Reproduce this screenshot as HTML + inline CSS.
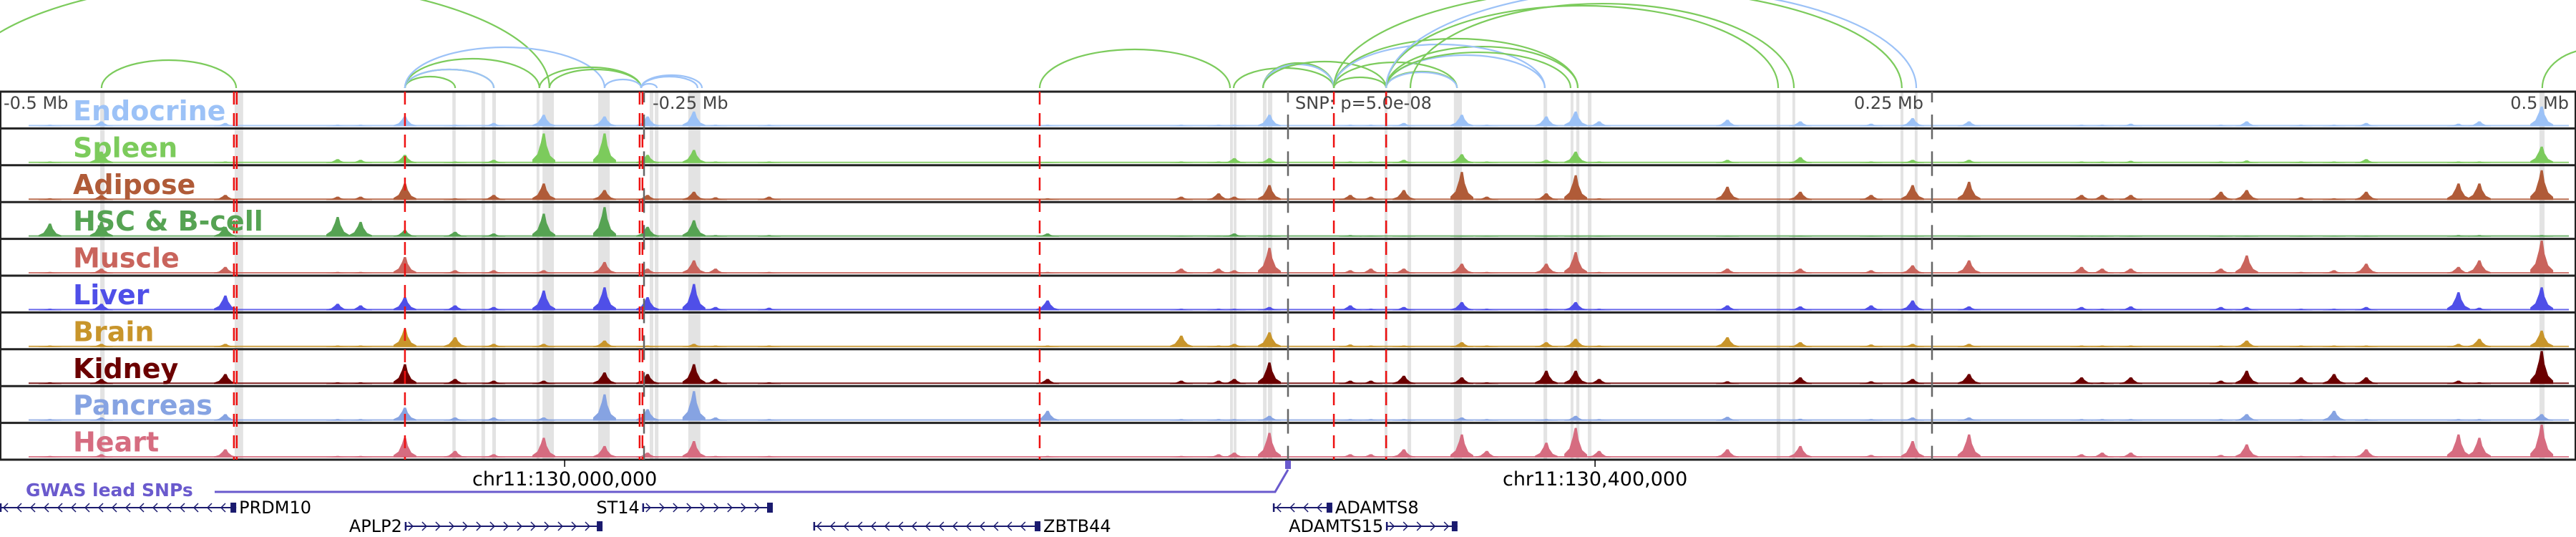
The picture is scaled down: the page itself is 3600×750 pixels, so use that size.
<!DOCTYPE html>
<html><head><meta charset="utf-8">
<style>
html,body{margin:0;padding:0;background:#fff;}
svg{display:block;}
text{font-family:"DejaVu Sans","Liberation Sans",sans-serif;}
</style></head>
<body>
<svg id="chart" width="3600" height="750" viewBox="0 0 3600 750" xmlns="http://www.w3.org/2000/svg">
  <g id="bands"></g>
  <g id="arcs"></g>
  <g id="tracks"></g>
  <g id="vlines"></g>
  <g id="labels"></g>
  <g id="axis">
    <text x="5" y="152" font-size="24" fill="#444">-0.5 Mb</text>
    <text x="912" y="152" font-size="24" fill="#444">-0.25 Mb</text>
    <text x="1810" y="152" font-size="24" fill="#444">SNP: p=5.0e-08</text>
    <text x="2688" y="152" font-size="24" fill="#444" text-anchor="end">0.25 Mb</text>
    <text x="3590" y="152" font-size="24" fill="#444" text-anchor="end">0.5 Mb</text>
  </g>
  <g id="coords"></g>
  <g id="gwas"></g>
  <g id="genes"></g>
</svg>
<script>
const trackNames = ["Endocrine","Spleen","Adipose","HSC & B-cell","Muscle","Liver","Brain","Kidney","Pancreas","Heart"];
const trackColors = ["#9cc2f7","#7ccb5c","#b05b38","#56a353","#c9645c","#4f4fe8","#c8952b","#6b0000","#86a3e2","#d66c80"];
const peakKb = [-480.6,-460.6,-412.5,-368.9,-360,-342.8,-323.3,-308.3,-288.9,-265.3,-248.6,-230.6,-222.2,-201.4,-93.3,-41.4,-26.9,-20.8,-7.2,24.2,32.2,45,67.5,77.2,100.3,111.7,120.8,170.6,198.9,226.4,242.5,264.4,308.1,316.1,327.2,362.2,372.2,393.3,406.1,418.6,454.4,462.5,486.7];
const sigEndocrine = [.05,.15,.1,.05,.05,.3,.05,.1,.35,.3,.3,.45,.05,.05,.05,.05,.05,.05,.35,.05,.05,.1,.35,.05,.3,.45,.15,.2,.15,.08,.25,.15,.05,.05,.08,.05,.15,.05,.05,.1,.08,.15,.6];
const sigSpleen = [.05,.35,.05,.12,.1,.25,.05,.1,.9,.9,.25,.4,.05,.05,.03,.05,.05,.15,.15,.05,.05,.1,.27,.05,.1,.35,.05,.1,.18,.05,.1,.1,.05,.05,.07,.05,.08,.05,.05,.12,.05,.05,.5];
const sigAdipose = [.05,.15,.15,.1,.1,.5,.05,.15,.5,.3,.15,.25,.08,.1,.05,.1,.2,.1,.45,.15,.1,.3,.85,.1,.2,.75,.05,.4,.25,.15,.45,.55,.15,.15,.15,.25,.3,.08,.05,.25,.5,.5,.9];
const sigHSC = [.4,.45,.3,.6,.45,.2,.15,.1,.7,.9,.3,.5,.05,.05,.1,.02,.02,.1,.05,.05,.03,.02,.02,.02,.02,.03,.02,.02,.03,.02,.02,.02,.02,.02,.02,.02,.02,.02,.02,.02,.05,.05,.05];
const sigMuscle = [.05,.15,.2,.05,.05,.5,.1,.1,.1,.35,.15,.4,.15,.05,.05,.15,.15,.1,.78,.1,.15,.15,.3,.05,.3,.65,.05,.15,.15,.1,.25,.4,.2,.15,.15,.15,.55,.05,.1,.3,.2,.4,1.0];
const sigLiver = [.05,.2,.45,.2,.15,.4,.15,.1,.6,.7,.4,.8,.1,.08,.3,.05,.05,.05,.1,.15,.05,.1,.25,.05,.05,.25,.05,.15,.12,.15,.3,.12,.1,.05,.12,.1,.1,.05,.05,.1,.55,.08,.7];
const sigBrain = [.05,.1,.1,.05,.05,.55,.3,.1,.1,.2,.05,.1,.05,.05,.05,.35,.05,.1,.45,.08,.05,.05,.15,.05,.15,.25,.05,.3,.15,.08,.1,.1,.05,.05,.05,.05,.2,.05,.05,.05,.1,.25,.5];
const sigKidney = [.05,.15,.3,.05,.05,.6,.15,.1,.1,.35,.3,.6,.15,.05,.15,.1,.1,.15,.65,.1,.1,.25,.2,.05,.4,.4,.15,.08,.2,.08,.15,.3,.2,.05,.2,.1,.4,.2,.3,.2,.1,.05,1.0];
const sigPancreas = [.05,.1,.2,.05,.05,.4,.1,.1,.1,.8,.35,.9,.1,.05,.3,.05,.05,.05,.15,.05,.05,.05,.1,.05,.05,.15,.05,.12,.06,.05,.1,.1,.05,.05,.05,.05,.2,.05,.3,.05,.05,.05,.2];
const sigHeart = [.05,.1,.25,.05,.05,.6,.2,.1,.6,.35,.15,.5,.05,.05,.05,.05,.1,.15,.75,.1,.1,.25,.7,.2,.45,.9,.2,.25,.35,.08,.5,.7,.1,.15,.15,.08,.4,.05,.05,.25,.7,.6,1.0];
const trackSignals = [sigEndocrine,sigSpleen,sigAdipose,sigHSC,sigMuscle,sigLiver,sigBrain,sigKidney,sigPancreas,sigHeart];
const bandStart = [-461.1,-408.9,-324.4,-313.1,-308.9,-291.7,-289.4,-267.8,-247.8,-245.8,-232.8,-22.5,-21.1,-9.7,-7.8,37.5,46.4,64.4,99.2,109.7,111.9,116.4,189.7,195.8,237.8,243.3,485.8];
const bandEnd   = [-459.4,-405.6,-323.1,-311.7,-307.5,-290.6,-285.0,-263.3,-246.4,-244.4,-228.1,-21.4,-20.0,-8.3,-6.1,38.6,47.8,67.5,100.6,110.8,113.1,117.8,191.1,196.9,238.9,244.4,487.8];
const redKb = [-409.2,-408.1,-342.8,-251.7,-250.6,-96.4,17.8,38.1];
const grayKb = [-250,0,250];
const arcStart = [-516.7,-460.6,-342.8,-342.8,-342.8,-342.8,-342.8,-290.6,-286.7,-265.3,-251.1,-251.1,-251.1,-96.4,-21.1,-9.7,-9.7,-9.7,17.8,17.8,38.1,38.1,38.1,38.1,17.8,17.8,38.1,38.1,47.5,17.8,38.1,486.9];
const arcEnd   = [-286.7,-408.3,-323.3,-308.3,-308.3,-290.6,-265.3,-251.1,-251.1,-251.1,-229.2,-227.5,-245,-22.5,17.8,17.8,17.8,38.1,38.1,65.6,65.6,65.6,99.7,112.5,112.5,99.7,109.7,190.3,196.4,238.3,243.9,527.8];
const arcHeight= [150,39,16,26,26,41,57,29,26,12,16,18,6,54,28,35,33,37,15,36,23,22,46,58,69,61,50,115,118,140,140,55];
const arcColor = [0,0,0,0,1,0,1,0,0,1,1,1,1,0,0,0,1,0,0,0,0,1,1,0,0,1,0,0,0,0,1,0];
const geneNames = ["PRDM10","ST14","APLP2","ZBTB44","ADAMTS8","ADAMTS15"];
const geneStartKb = [-500,-250.6,-342.8,-184.2,-5.8,38.1];
const geneEndKb = [-408.3,-200,-266.1,-96.1,17.2,65.8];
const geneStrand = [-1,1,1,-1,-1,1];
const geneRow = [0,0,1,1,0,1];
const geneLabelSide = [1,-1,-1,1,1,-1];
const coordLabels = ["chr11:130,000,000","chr11:130,400,000"];
const coordKb = [-280.8,119.2];

const NS="http://www.w3.org/2000/svg";
const X0=1800, PXKB=3.6;
function xs(kb){return X0+kb*PXKB;}
const TOP=128, TH=51.4, NT=10, BOT=TOP+TH*NT;
function mk(tag,attrs,parent){const e=document.createElementNS(NS,tag);for(const k in attrs)e.setAttribute(k,attrs[k]);parent.appendChild(e);return e;}

const gB=document.getElementById('bands');
bandStart.forEach((s,i)=>{
  const r=mk('rect',{x:xs(s),y:TOP,width:Math.max(3,xs(bandEnd[i])-xs(s)),height:BOT-TOP,fill:'#e3e3e3'},gB);
  
  
});

const gA=document.getElementById('arcs');
const arcBase=123;
arcStart.forEach((s,i)=>{
  const x1=xs(s),x2=xs(arcEnd[i]),rx=(x2-x1)/2,h=arcHeight[i];
  const p=mk('path',{d:`M${x1},${arcBase} A${rx},${h} 0 0 1 ${x2},${arcBase}`,fill:'none',stroke:arcColor[i]?'#9cc2f7':'#7ccb5c','stroke-width':2.2},gA);
  
  
});

const gT=document.getElementById('tracks');
const PEAKMAX=46;
for(let t=0;t<NT;t++){
  const y0=TOP+t*TH, base=y0+TH-3;
  const g=mk('g',{},gT);
  
  
  const bl=mk('rect',{x:40,y:base-2,width:3550,height:2,fill:trackColors[t],opacity:0.85},g);
  
  
  trackSignals[t].forEach((v,i)=>{
    const x=xs(peakKb[i]), h=v*PEAKMAX;
    const pts=[[x-16,base],[x-16,base-0.12*h],[x-9,base-0.3*h],[x-4,base-0.7*h],[x-1.5,base-h],[x+1.5,base-h],[x+4,base-0.6*h],[x+9,base-0.25*h],[x+16,base-0.1*h],[x+16,base]];
    const p=mk('polygon',{points:pts.map(q=>q.join(',')).join(' '),fill:trackColors[t]},g);
    
    
  });
}
for(let t=0;t<=NT;t++){
  const y=TOP+t*TH;
  const l=mk('line',{x1:0,x2:3600,y1:y,y2:y,stroke:'#222','stroke-width':3},gT);
  
  
}
const fl=mk('line',{x1:1,x2:1,y1:TOP,y2:BOT,stroke:'#222','stroke-width':2},gT);


const fr=mk('line',{x1:3599,x2:3599,y1:TOP,y2:BOT,stroke:'#222','stroke-width':2},gT);



const gV=document.getElementById('vlines');
grayKb.forEach(k=>{
  const l=mk('line',{x1:xs(k),x2:xs(k),y1:TOP,y2:BOT,stroke:'#666','stroke-width':2.5,'stroke-dasharray':'15 17 19.4 0.001'},gV);
  
  
});
redKb.forEach(k=>{
  const l=mk('line',{x1:xs(k),x2:xs(k),y1:TOP,y2:BOT,stroke:'#ee1111','stroke-width':2.5,'stroke-dasharray':'18 12'},gV);
  
  
});

const gL=document.getElementById('labels');
trackNames.forEach((n,t)=>{
  const tx=mk('text',{x:102,y:TOP+t*TH+40,'font-size':38,'font-weight':'bold',fill:trackColors[t]},gL);
  tx.textContent=n;
  
  
});

const gC=document.getElementById('coords');
coordLabels.forEach((c,i)=>{
  const x=xs(coordKb[i]);
  const l=mk('line',{x1:x,x2:x,y1:BOT,y2:BOT+10,stroke:'#000','stroke-width':1.5},gC);
  
  
  const t=mk('text',{x:x,y:678,'font-size':27,'text-anchor':'middle',fill:'#000'},gC);
  t.textContent=c;
  
  
});

const gG=document.getElementById('gwas');
const gt=mk('text',{x:36,y:693,'font-size':25,'font-weight':'bold',fill:'#6a5acd'},gG);
gt.textContent='GWAS lead SNPs';


const gp=mk('polyline',{points:`300,687 1782,687 1800,656`,fill:'none',stroke:'#6a5acd','stroke-width':3},gG);


const gr=mk('rect',{x:xs(0)-4,y:643,width:8,height:12,fill:'#6a5acd'},gG);



const gN=document.getElementById('genes');
const GC='#1a1a6e';
geneNames.forEach((n,i)=>{
  const y=geneRow[i]?735:709;
  const x1=Math.max(0,xs(geneStartKb[i])), x2=xs(geneEndKb[i]);
  const g=mk('g',{},gN);
  
  
  mk('line',{x1:x1,x2:x2,y1:y,y2:y,stroke:GC,'stroke-width':2},g);
  for(let x=x1+8;x<x2-6;x+=19){
    const d=geneStrand[i]>0?`M${x-3},${y-6} L${x+3},${y} L${x-3},${y+6}`:`M${x+3},${y-6} L${x-3},${y} L${x+3},${y+6}`;
    mk('path',{d:d,fill:'none',stroke:GC,'stroke-width':1.5},g);
  }
  mk('line',{x1:x1+1,x2:x1+1,y1:y-6,y2:y+6,stroke:GC,'stroke-width':2.5},g);
  mk('rect',{x:x2-8,y:y-7,width:8,height:14,fill:GC},g);
  const lx=geneLabelSide[i]>0?x2+4:x1-4;
  const t=mk('text',{x:lx,y:y+8,'font-size':24,'text-anchor':geneLabelSide[i]>0?'start':'end',fill:'#000'},g);
  t.textContent=n;
  
  
});
</script>
</body></html>
